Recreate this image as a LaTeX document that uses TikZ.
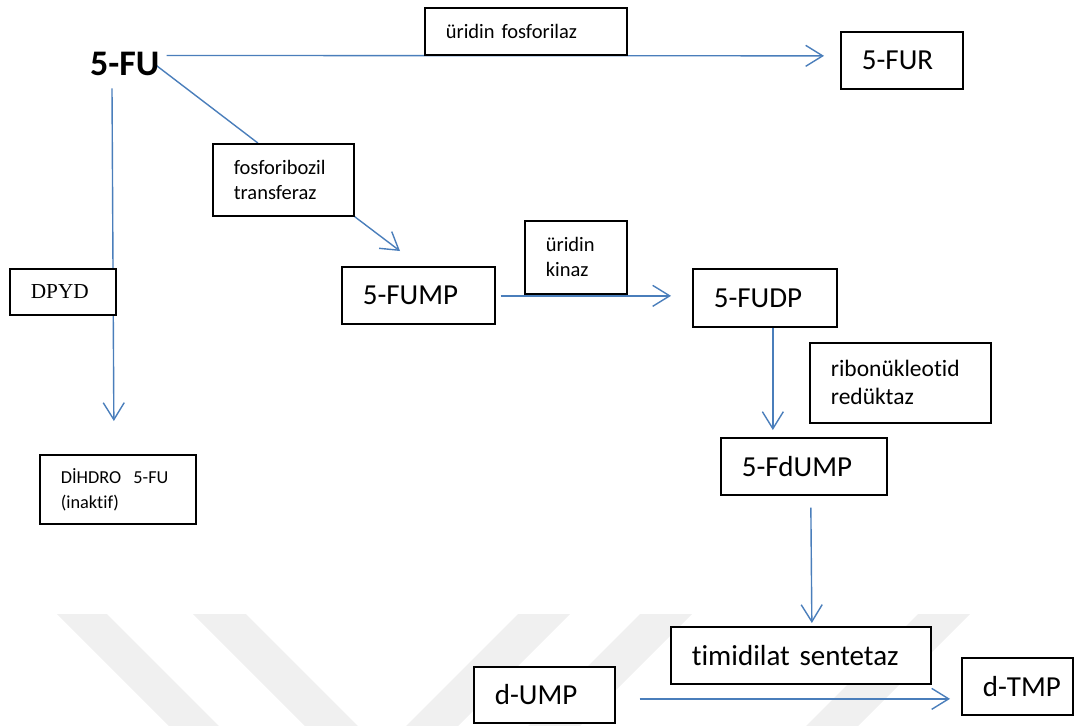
\documentclass[tikz,border=0pt]{standalone}
\usepackage{fontspec}
\setmainfont{Carlito}[Ligatures=NoCommon]
\newfontfamily\timesfont{Liberation Serif}
\usepackage{xcolor}
\usetikzlibrary{arrows.meta,backgrounds}
\definecolor{lineblue}{HTML}{4A7EBB}
\definecolor{wmgray}{gray}{0.94}
\newcommand{\lp}{\hspace*{21pt}}

\begin{document}
\begin{tikzpicture}[x=1pt,y=-1pt,->,>={Straight Barb[length=17pt,width=21pt]},
	flow/.style={draw=lineblue,line width=1.4pt},
	box/.style={draw,line width=1.7pt,fill=white,inner sep=0pt,anchor=north west,align=left},
	big/.style={font=\fontsize{29}{35}\selectfont},
	small/.style={font=\fontsize{20.5}{25}\selectfont}]
		\useasboundingbox (0,0) rectangle (1075,725);

		\node[font=\fontsize{36}{43}\selectfont\bfseries,inner sep=0pt,anchor=base west] (fu) at (90,75) {5-FU};
		\node[box,small,text width=202pt,minimum height=47pt] (ufos) at (424,7) {\lp üridin fosforilaz};
		\node[box,big,text width=122pt,minimum height=57pt] (fur) at (840,31) {\lp 5-FUR};
		\node[box,small,text width=141pt,minimum height=72pt] (fpt) at (212,143) {\lp fosforibozil\\\lp transferaz};
		\node[box,big,text width=153pt,minimum height=57pt] (fump) at (341,266) {\lp 5-FUMP};
		\node[box,small,text width=102pt,minimum height=73pt] (ukin) at (524,220) {\lp üridin\\\lp kinaz};
		\node[box,big,text width=144pt,minimum height=58pt] (fudp) at (692,268) {\lp 5-FUDP};
		\node[box,font=\fontsize{23.5}{28}\selectfont,text width=181pt,minimum height=80pt] (rnr) at (809,342) {\lp ribonükleotid\\\lp redüktaz};
		\node[box,big,text width=166pt,minimum height=57pt] (fdump) at (720,437) {\lp 5-FdUMP};
		\node[box,big,text width=260pt,minimum height=57pt] (ts) at (670,626) {\lp timidilat sentetaz};
		\node[box,big,text width=141pt,minimum height=56pt] (dump) at (473,666) {\lp d-UMP};
		\node[box,big,text width=111pt,minimum height=57pt] (dtmp) at (961,657) {\lp d-TMP};
		\node[box,font=\timesfont\fontsize{21.3}{26}\selectfont,text width=106pt,minimum height=46pt] (dpyd) at (9,268) {\lp DPYD};
		\node[box,font=\fontsize{18.3}{25}\selectfont,text width=156pt,minimum height=69pt] (dih) at (39,454) {\lp DİHDRO~ 5-FU\\\lp (inaktif)};

		\begin{scope}[on background layer]
			% faint watermark stripes
			\begin{scope}
				\clip (0,0) rectangle (1075,725);
				\foreach \a/\b in {57/107,193/246}
					\fill[wmgray] (\a,614) -- (\b,614) -- (\b+120,734) -- (\a+120,734) -- cycle;
				\foreach \a/\b in {518/570,640/692,918/970}
					\fill[wmgray] (\a,614) -- (\b,614) -- (\b-120,734) -- (\a-120,734) -- cycle;
			\end{scope}

			\path ([shift={(7,4)}]fu.north east) edge[flow] ([shift={(-16,-4.5)}]fur.west);
			\path ([shift={(-6,0)}]fu.east) edge[flow,-] ([shift={(-25.5,0)}]fpt.north);
			\path (fpt.south east) edge[flow] ([shift={(59,-15)}]fump.north west);
			\path ([shift={(22,13)}]fu.south west) edge[flow] ([shift={(-4,-33)}]dih.north);

			\path ([shift={(5,0.5)}]fump.east) edge[flow] ([shift={(-21,-2)}]fudp.west);
			\path ([shift={(8,0)}]fudp.south) edge[flow] ([shift={(-31,-7)}]fdump.north);
			\path ([shift={(7,12)}]fdump.south) edge[flow] ([shift={(11,-3)}]ts.north);
			\path ([shift={(24,4)}]dump.east) edge[flow] ([shift={(-11,12.5)}]dtmp.west);
		\end{scope}
\end{tikzpicture}
\end{document}
